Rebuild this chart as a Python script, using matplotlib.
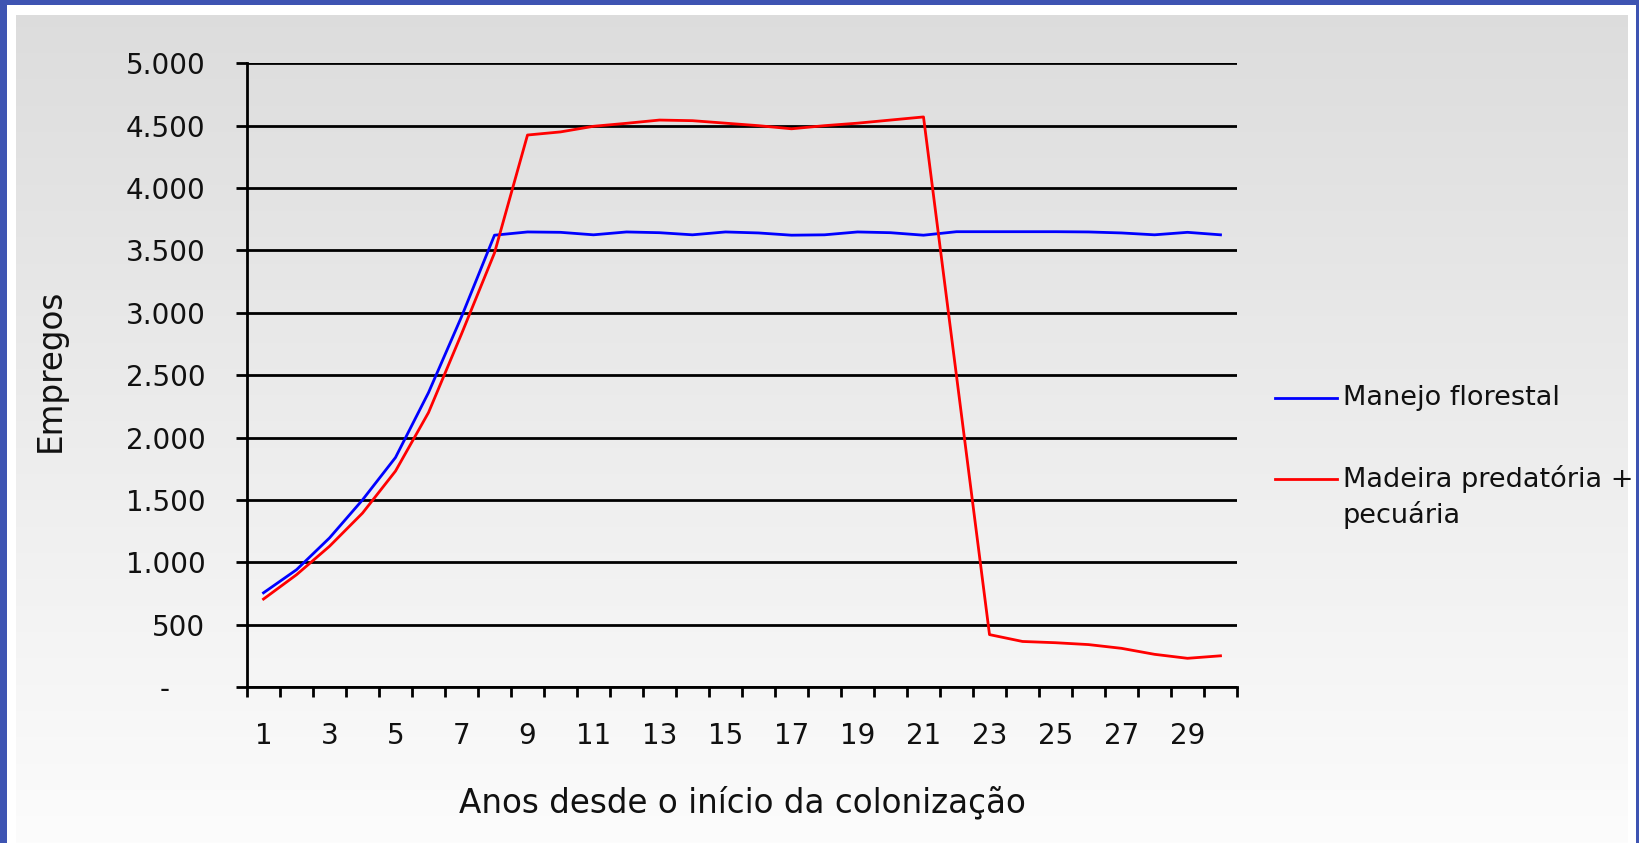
import matplotlib
matplotlib.use("Agg")
import matplotlib.pyplot as plt
import numpy as np
from matplotlib.lines import Line2D
from matplotlib.ticker import FixedLocator, FuncFormatter

years = list(range(1, 31))
manejo = [755, 940, 1195, 1500, 1840, 2360, 2968, 3622, 3648, 3645,
          3625, 3648, 3642, 3625, 3648, 3640, 3622, 3625, 3648, 3642,
          3622, 3650, 3650, 3650, 3650, 3648, 3640, 3625, 3645, 3625]
predatoria = [705, 900, 1128, 1394, 1731, 2200, 2830, 3480, 4425, 4450,
              4495, 4519, 4545, 4540, 4520, 4500, 4475, 4500, 4520, 4545,
              4570, 2494, 420, 365, 355, 340, 310, 262, 230, 250]
y_ticks = [0, 500, 1000, 1500, 2000, 2500, 3000, 3500, 4000, 4500, 5000]
x_labels = [str(y) for y in years if y % 2 == 1]

W, H, DPI = 1640, 843, 100
fig = plt.figure(figsize=(W / DPI, H / DPI), dpi=DPI)

# slide background: blue frame, white border, grey gradient panel
bg = np.ones((H, W, 3))
shade = np.linspace(220, 252, H)[:, None] / 255.0
bg[15:, 16:1628, :] = np.repeat(shade[15:], 1628 - 16, axis=1)[:, :, None]
blue = np.array([62, 84, 178]) / 255.0
bg[:5, :, :] = blue
bg[:, :7, :] = blue
bg[:, 1636:, :] = blue
bax = fig.add_axes([0, 0, 1, 1], zorder=-10)
bax.imshow(bg, aspect="auto", interpolation="nearest")
bax.axis("off")

ax = fig.add_axes([247 / W, 1 - 687 / H, 990 / W, 623.7 / H])
ax.patch.set_alpha(0)

ax.plot(years, manejo, color="#0000ff", lw=2.0, zorder=3)
ax.plot(years, predatoria, color="#ff0000", lw=2.0, zorder=3)

ax.set_xlim(0.5, 30.5)
ax.set_ylim(0, 5000)

txt = "#111111"
ax.set_yticks(y_ticks)
ax.yaxis.set_major_formatter(FuncFormatter(
    lambda v, p: "-    " if v == 0 else f"{v:,.0f}".replace(",", ".")))
ax.yaxis.grid(True, color="black", lw=2.0)
ax.set_axisbelow(True)
ax.tick_params(axis="y", length=8, width=2.0, pad=22, labelsize=20,
               labelcolor=txt, color="black")

ax.xaxis.set_major_locator(FixedLocator(np.arange(0.5, 31, 1)))
ax.xaxis.set_major_formatter(FuncFormatter(lambda v, p: ""))
ax.xaxis.set_minor_locator(FixedLocator([y for y in years if y % 2 == 1]))
ax.set_xticklabels(x_labels, minor=True)
ax.tick_params(axis="x", which="major", length=7, width=2.0, color="black")
ax.tick_params(axis="x", which="minor", length=0, pad=25, labelsize=20,
               labelcolor=txt)

for s in ("top", "right"):
    ax.spines[s].set_visible(False)
for s in ("left", "bottom"):
    ax.spines[s].set_linewidth(2.0)
    ax.spines[s].set_color("black")

ax.set_xlabel("Anos desde o início da colonização", fontsize=23.5, color=txt)
ax.xaxis.set_label_coords(0.5, -0.186)
ax.xaxis.label.set_verticalalignment("center")
ax.set_ylabel("Empregos", fontsize=23.5, color=txt)
ax.yaxis.set_label_coords(-0.199, 0.507)
ax.yaxis.label.set_verticalalignment("center")

# legend drawn beside the plot
fig.add_artist(Line2D([1275 / W, 1337 / W], [1 - 398 / H] * 2,
                      color="#0000ff", lw=2.0))
fig.add_artist(Line2D([1275 / W, 1337 / W], [1 - 479 / H] * 2,
                      color="#ff0000", lw=2.0))
fig.text(1343 / W, 1 - 398 / H, "Manejo florestal", fontsize=19.5,
         color=txt, va="center", ha="left")
fig.text(1343 / W, 1 - 465 / H, "Madeira predatória +\npecuária",
         fontsize=19.5, color=txt, va="top", ha="left", linespacing=1.35)

fig.savefig("out.png", dpi=DPI)
plt.close(fig)
